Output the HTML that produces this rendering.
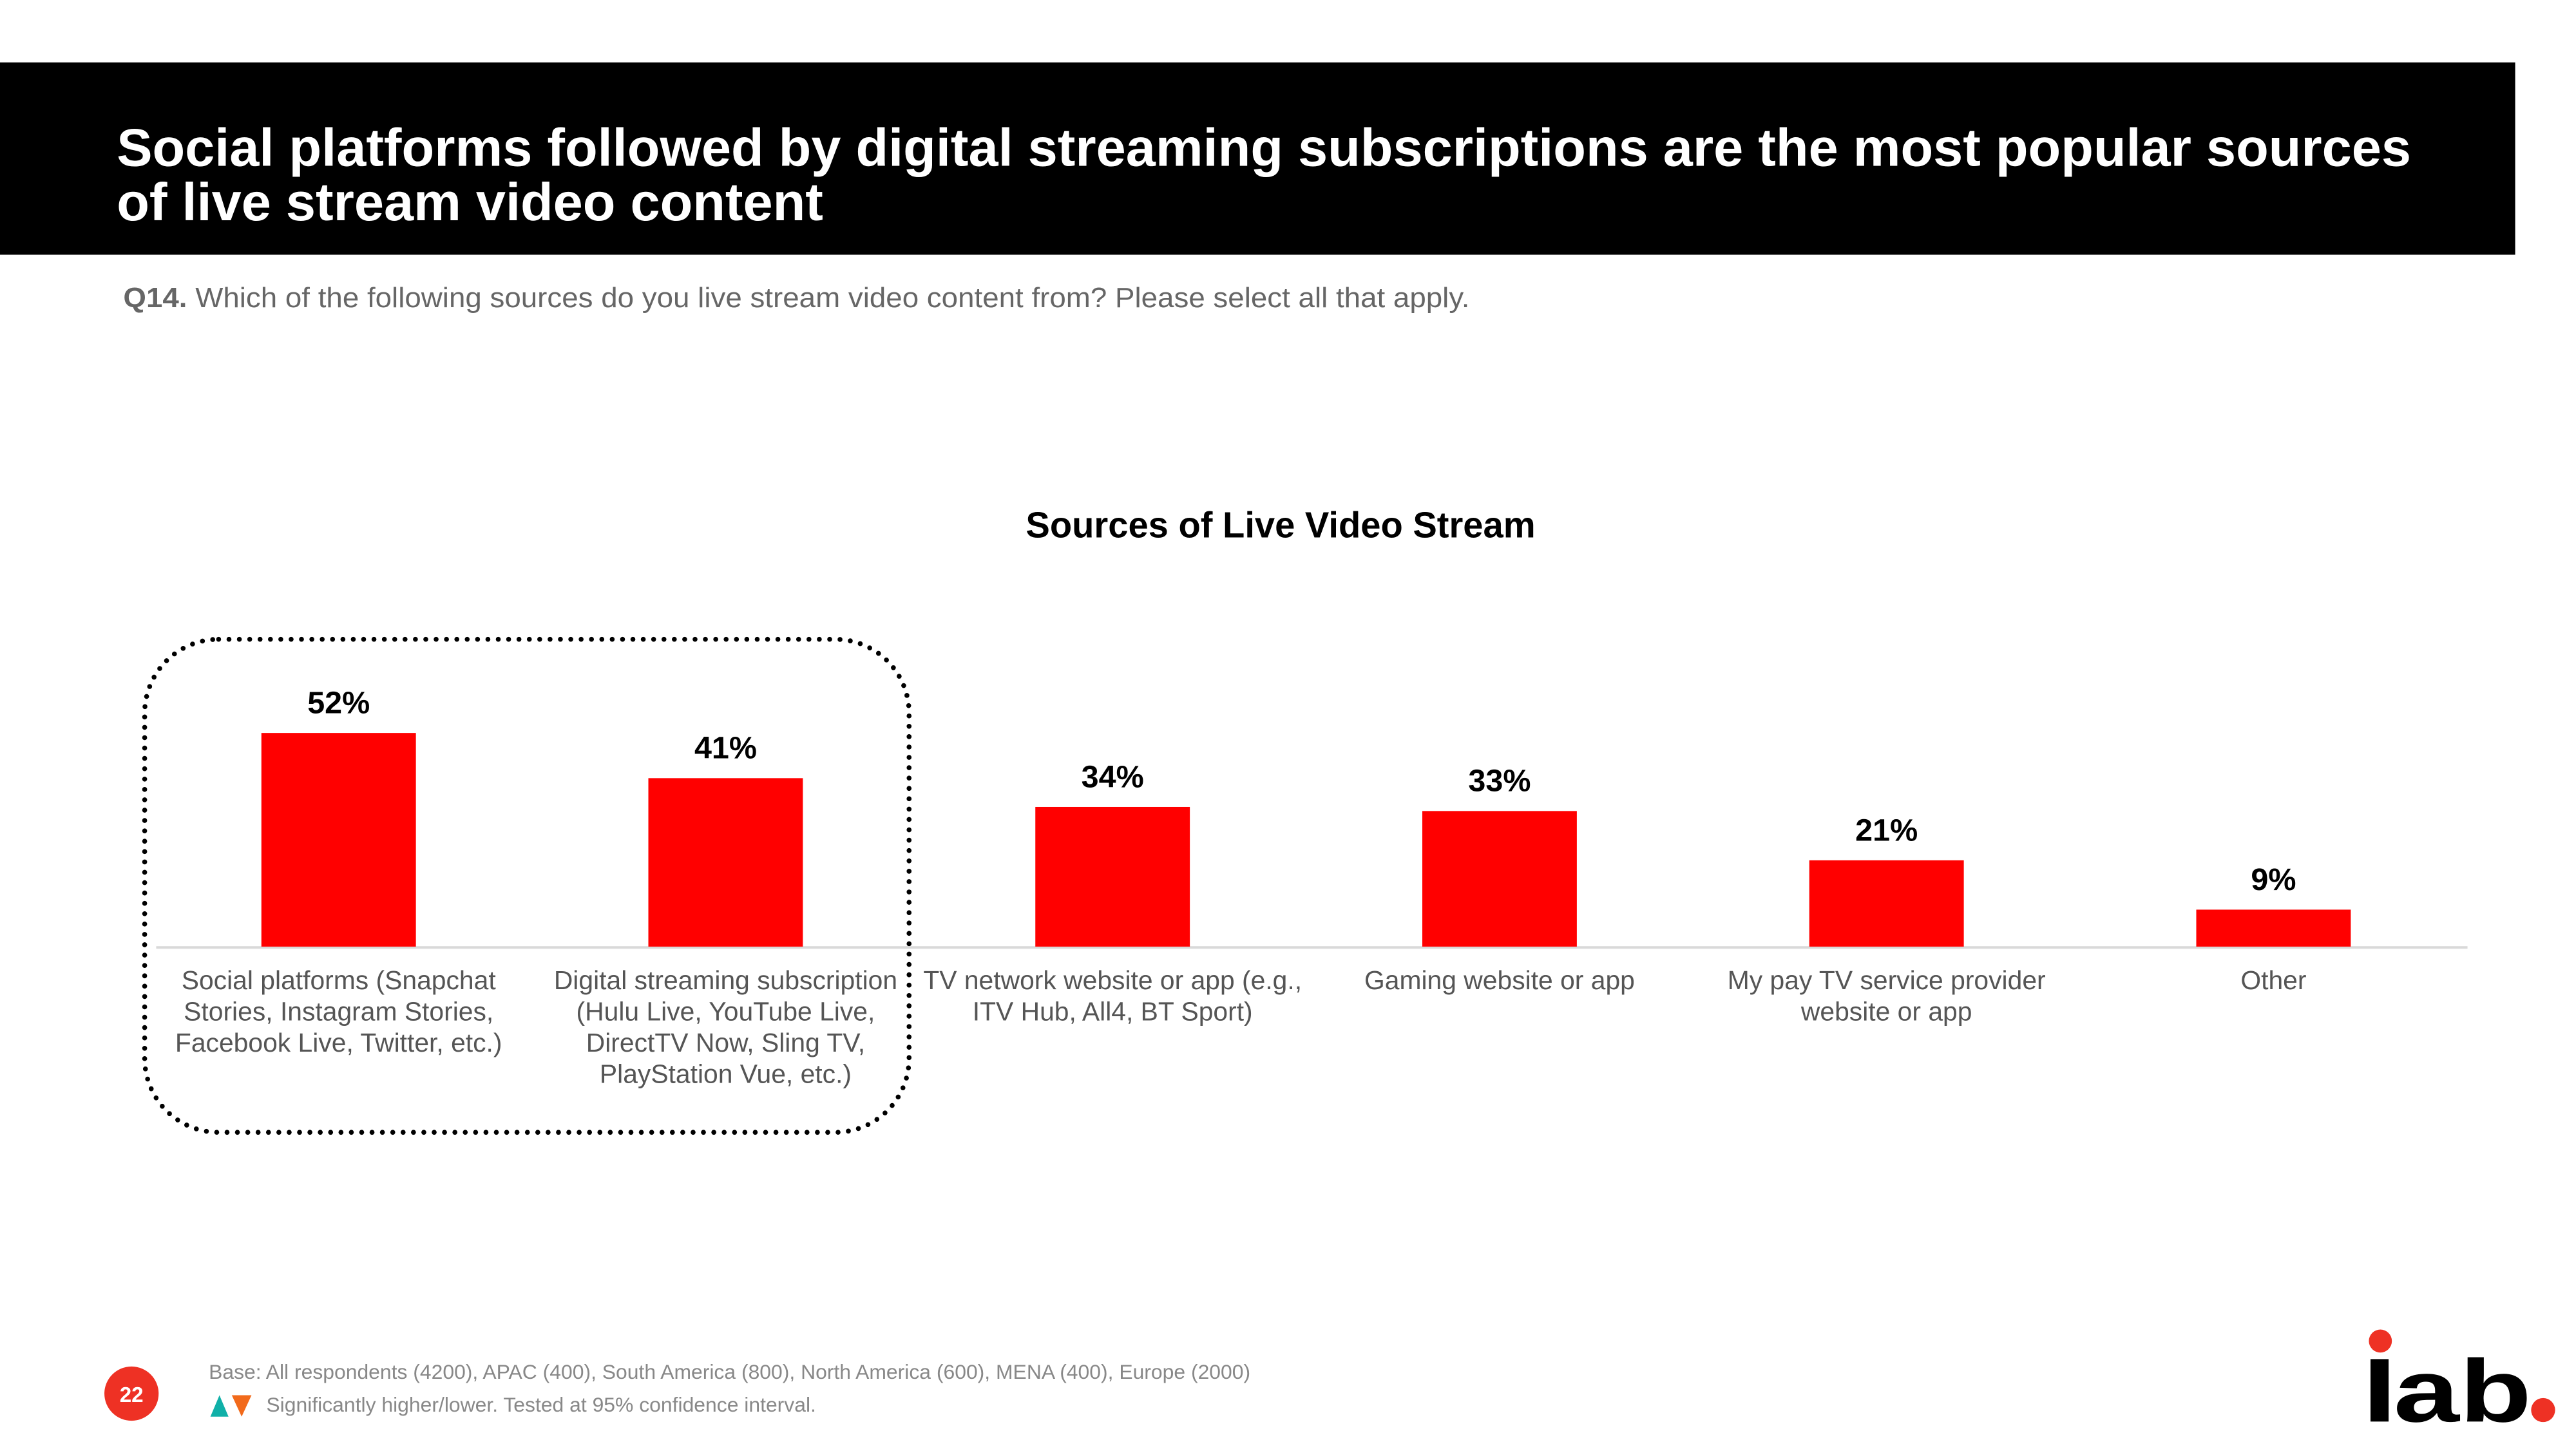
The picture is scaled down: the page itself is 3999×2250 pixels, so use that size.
<!DOCTYPE html>
<html><head><meta charset="utf-8"><style>
html,body{margin:0;padding:0;background:#fff}
svg{display:block}
text{font-family:"Liberation Sans",sans-serif}
</style></head><body>
<svg id="s" width="3999" height="2250" viewBox="0 0 1567 881.7" preserveAspectRatio="none" xmlns="http://www.w3.org/2000/svg">
<rect x="0" y="38" width="1530" height="117" fill="#000"/>
<text fill="#fff" font-weight="bold" font-size="32.5"><tspan x="71" y="101">Social platforms followed by digital streaming subscriptions are the most popular sources</tspan><tspan x="71" y="134">of live stream video content</tspan></text>
<text x="75" y="187" font-size="17" fill="#666" textLength="819" lengthAdjust="spacingAndGlyphs"><tspan font-weight="bold">Q14.</tspan> Which of the following sources do you live stream video content from? Please select all that apply.</text>
<text x="779" y="327" font-size="22" font-weight="bold" text-anchor="middle" fill="#000">Sources of Live Video Stream</text>
<rect x="88" y="389" width="465" height="300" rx="45" fill="none" stroke="#000" stroke-width="3" stroke-dasharray="0 6.3" stroke-linecap="round"/>
<line x1="95" y1="576.5" x2="1501" y2="576.5" stroke="#d9d9d9" stroke-width="1.5"/>
<g id="bars"></g>
<circle cx="80" cy="848" r="16.5" fill="#ee3124"/>
<text x="80" y="853" font-size="13" font-weight="bold" fill="#fff" text-anchor="middle">22</text>
<text x="127" y="839" font-size="12.5" fill="#888">Base: All respondents (4200), APAC (400), South America (800), North America (600), MENA (400), Europe (2000)</text>
<polygon points="128,862 139,862 133.5,849" fill="#10b0a8"/>
<polygon points="141,849 153,849 147,862" fill="#f26a1b"/>
<text x="162" y="859" font-size="12.5" fill="#888">Significantly higher/lower. Tested at 95% confidence interval.</text>
<g>
<rect x="1442" y="827" width="11" height="38" fill="#000"/>
<text x="1456" y="865" font-size="54" font-weight="bold" fill="#000" textLength="84" lengthAdjust="spacingAndGlyphs">ab</text>
<circle cx="1448" cy="816" r="7" fill="#ee3124"/>
<circle cx="1547" cy="858" r="7.3" fill="#ee3124"/>
</g>
</svg>
<script>
const categories=[["Social platforms (Snapchat","Stories, Instagram Stories,","Facebook Live, Twitter, etc.)"],["Digital streaming subscription","(Hulu Live, YouTube Live,","DirectTV Now, Sling TV,","PlayStation Vue, etc.)"],["TV network website or app (e.g.,","ITV Hub, All4, BT Sport)"],["Gaming website or app"],["My pay TV service provider","website or app"],["Other"]];
const values=[52,41,34,33,21,9];
const valueLabels=["52%","41%","34%","33%","21%","9%"];
const NS="http://www.w3.org/2000/svg";
const g=document.getElementById('bars');
const base=576,pxPer=2.5,x0=206,step=235.4,bw=94;
function xc(i){return x0+i*step;}
function yv(v){return base-v*pxPer;}
values.forEach((v,i)=>{
 const r=document.createElementNS(NS,'rect');
 
 
 r.setAttribute('x',xc(i)-bw/2);r.setAttribute('y',yv(v));r.setAttribute('width',bw);r.setAttribute('height',base-yv(v));r.setAttribute('fill','#ff0000');
 g.appendChild(r);
 const t=document.createElementNS(NS,'text');
 
 
 t.setAttribute('x',xc(i));t.setAttribute('y',yv(v)-12);t.setAttribute('font-size','19');t.setAttribute('font-weight','bold');t.setAttribute('text-anchor','middle');
 t.textContent=valueLabels[i];g.appendChild(t);
 const c=document.createElementNS(NS,'text');
 
 
 c.setAttribute('font-size','16');c.setAttribute('fill','#555');c.setAttribute('text-anchor','middle');
 categories[i].forEach((ln,j)=>{const s=document.createElementNS(NS,'tspan');s.setAttribute('x',xc(i));s.setAttribute('y',602+j*19);s.textContent=ln;c.appendChild(s);});
 g.appendChild(c);
});
</script>
</body></html>
